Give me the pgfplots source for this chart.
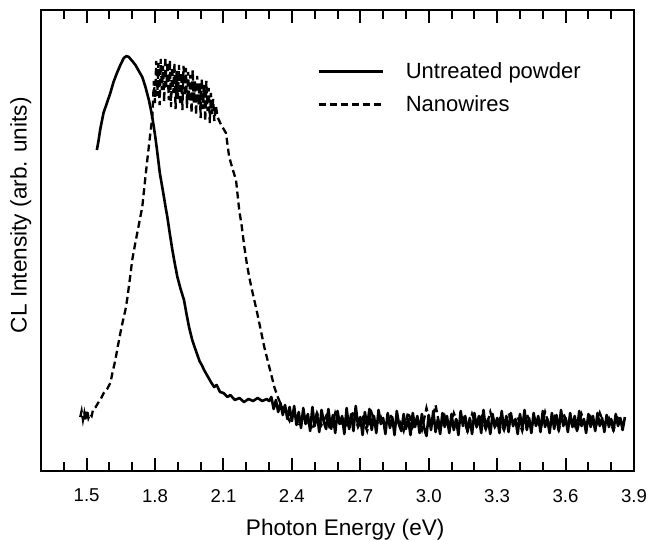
\documentclass[border=0pt]{standalone}
\usepackage{fontspec}
\setmainfont{Liberation Sans}
\usepackage{pgfplots}
\pgfplotsset{compat=1.18}

\begin{document}
\begin{tikzpicture}
\path[use as bounding box] (-20.5pt,-34.5pt) rectangle (305.5pt,235.5pt);
\begin{axis}[
    at={(0,0)}, anchor=south west,
    scale only axis,
    width=296.5pt, height=230.5pt,
    xmin=1.3, xmax=3.9,
    ymin=0, ymax=461,
    xtick={1.5,1.8,...,3.9},
    minor xtick={1.3,1.4,...,3.9},
    ytick=\empty,
    tick align=inside,
    major tick length=6.5pt,
    minor tick length=4.5pt,
    every tick/.style={line width=1pt, black},
    axis line style={line width=1.3pt},
    xticklabel style={font=\fontsize{9.3}{11}\selectfont, yshift=-5.5pt},
    /pgf/number format/assume math mode=true,
    /pgf/number format/.cd, fixed, fixed zerofill, precision=1, /pgfplots/.cd,
    xlabel={Photon Energy (eV)},
    ylabel={CL Intensity (arb. units)},
    label style={font=\fontsize{11.3}{13}\selectfont},
    xlabel style={at={(axis description cs:0.513,-0.127)}, anchor=center},
    ylabel style={at={(axis description cs:-0.034,0.555)}, anchor=center},
    legend style={draw=none, fill=none, at={(axis description cs:0.455,0.905)}, anchor=north west,
        font=\fontsize{11}{13}\selectfont, row sep=3pt,
        /tikz/every odd column/.append style={column sep=9pt}},
    legend cell align=left,
    legend image code/.code={\draw[#1] (0pt,0pt) -- (32pt,0pt);},
]
% Untreated powder
\addplot[black, line width=1.3pt, line join=round] coordinates {
(1.545,321) (1.552,330) (1.560,342) (1.567,350) (1.574,358) (1.589,368) (1.604,378)
(1.618,389) (1.633,398) (1.648,406) (1.663,413) (1.675,415) (1.685,414) (1.700,410)
(1.714,406) (1.729,400) (1.744,394) (1.758,384) (1.773,371) (1.783,360) (1.792,348)
(1.800,336) (1.807,324) (1.814,311) (1.821,298) (1.830,286) (1.839,274) (1.847,263)
(1.854,254) (1.865,237) (1.876,221) (1.887,207) (1.898,194) (1.912,182) (1.927,171)
(1.938,157) (1.949,144) (1.963,131) (1.978,121) (1.995,110) (2.005,106) (2.015,101)
(2.025,97) (2.035,93) (2.045,89) (2.059,84) (2.070,86) (2.085,79) (2.100,78)
(2.118,74) (2.130,76) (2.150,71) (2.170,73) (2.190,69) (2.210,72) (2.230,70)
(2.250,73) (2.270,70) (2.290,72)
(2.30,70) (2.31,74) (2.32,62) (2.33,71) (2.34,59) (2.35,68) (2.36,56) (2.37,66)
(2.38,52) (2.39,64) (2.40,50) (2.41,65) (2.42,46) (2.43,59) (2.44,43) (2.45,63)
(2.46,47) (2.47,57) (2.48,40) (2.49,64) (2.50,45) (2.51,58) (2.52,39) (2.53,61)
(2.54,49) (2.55,42) (2.56,62) (2.57,44) (2.58,56) (2.59,38) (2.60,60) (2.61,47)
(2.62,55) (2.63,37) (2.64,63) (2.65,43) (2.66,57) (2.67,40) (2.68,65) (2.69,45)
(2.70,54) (2.71,36) (2.72,59) (2.73,44) (2.74,62) (2.75,41) (2.76,55) (2.77,38)
(2.78,61) (2.79,47) (2.80,53) (2.81,37) (2.82,58) (2.83,43) (2.84,54) (2.85,36)
(2.86,60) (2.87,46) (2.88,40) (2.89,57) (2.90,42) (2.91,52) (2.92,36) (2.93,58)
(2.94,44) (2.95,55) (2.96,38) (2.97,57) (2.98,43) (2.99,35) (3.00,56) (3.01,41)
(3.02,60) (3.03,39) (3.04,52) (3.05,37) (3.06,58) (3.07,44) (3.08,55) (3.09,38)
(3.10,57) (3.11,41) (3.12,52) (3.13,36) (3.14,60) (3.15,45) (3.16,55) (3.17,39)
(3.18,53) (3.19,37) (3.20,58) (3.21,44) (3.22,55) (3.23,38) (3.24,61) (3.25,42)
(3.26,52) (3.27,37) (3.28,57) (3.29,44) (3.30,53) (3.31,38) (3.32,60) (3.33,41)
(3.34,55) (3.35,39) (3.36,58) (3.37,45) (3.38,52) (3.39,37) (3.40,57) (3.41,42)
(3.42,61) (3.43,41) (3.44,53) (3.45,38) (3.46,58) (3.47,45) (3.48,55) (3.49,39)
(3.50,60) (3.51,44) (3.52,52) (3.53,38) (3.54,58) (3.55,42) (3.56,56) (3.57,40)
(3.58,61) (3.59,45) (3.60,53) (3.61,39) (3.62,58) (3.63,44) (3.64,55) (3.65,40)
(3.66,60) (3.67,45) (3.68,52) (3.69,38) (3.70,57) (3.71,44) (3.72,55) (3.73,40)
(3.74,58) (3.75,45) (3.76,53) (3.77,39) (3.78,56) (3.79,44) (3.80,52) (3.81,40)
(3.82,57) (3.83,45) (3.84,53) (3.85,41) (3.86,54)
};
\addlegendentry{Untreated powder}
% Nanowires
\addplot[black, line width=1.15pt, dash pattern=on 3.5pt off 2pt] coordinates {
(1.472,54) (1.478,60) (1.484,51) (1.490,58) (1.496,50) (1.502,61) (1.508,53)
(1.515,57) (1.522,55) (1.529,62) (1.540,64) (1.550,68) (1.560,71) (1.575,78)
(1.590,82) (1.604,88) (1.615,100) (1.626,111) (1.637,125) (1.648,138) (1.659,150)
(1.670,161) (1.678,172) (1.685,184) (1.693,198) (1.700,211) (1.711,225) (1.722,238)
(1.733,251) (1.744,264) (1.755,288) (1.766,311) (1.777,333) (1.788,354) (1.795,390)
(1.800,368) (1.805,410) (1.810,375) (1.815,408) (1.820,366) (1.825,412) (1.830,381)
(1.835,405) (1.840,369) (1.845,414) (1.850,384) (1.855,409) (1.860,371) (1.865,411)
(1.870,364) (1.875,404) (1.880,378) (1.885,408) (1.890,362) (1.895,400) (1.900,372)
(1.905,406) (1.910,366) (1.915,398) (1.920,361) (1.925,405) (1.930,375) (1.935,403)
(1.940,363) (1.945,399) (1.950,370) (1.955,396) (1.960,358) (1.965,401) (1.970,368)
(1.975,390) (1.980,356) (1.985,395) (1.990,366) (1.995,388) (2.000,353) (2.005,392)
(2.010,362) (2.015,386) (2.020,350) (2.025,390) (2.030,360) (2.035,383) (2.040,348)
(2.045,378) (2.050,357) (2.055,372) (2.060,350) (2.067,365)
(2.074,354) (2.090,346) (2.111,338) (2.125,314) (2.140,302) (2.155,291) (2.169,261)
(2.180,245) (2.191,225) (2.202,208) (2.213,194) (2.224,182) (2.235,171) (2.246,160)
(2.257,148) (2.268,136) (2.279,124) (2.290,114) (2.301,104) (2.312,94) (2.323,84)
(2.338,74) (2.353,66) (2.365,62)
(2.37,60) (2.39,50) (2.41,60) (2.43,45) (2.45,57) (2.47,49) (2.49,41) (2.51,58)
(2.53,46) (2.55,55) (2.57,40) (2.59,58) (2.61,45) (2.63,54) (2.65,41) (2.67,60)
(2.69,44) (2.71,53) (2.73,40) (2.75,58) (2.77,46) (2.79,54) (2.81,41) (2.83,57)
(2.85,45) (2.87,52) (2.89,40) (2.91,59) (2.93,44) (2.95,53) (2.97,41) (2.99,63)
(3.01,45) (3.03,66) (3.05,42) (3.07,55) (3.09,41) (3.11,58) (3.13,46) (3.15,53)
(3.17,40) (3.19,57) (3.21,45) (3.23,54) (3.25,42) (3.27,59) (3.29,44) (3.31,52)
(3.33,41) (3.35,58) (3.37,46) (3.39,54) (3.41,40) (3.43,57) (3.45,45) (3.47,53)
(3.49,42) (3.51,59) (3.53,44) (3.55,54) (3.57,41) (3.59,58) (3.61,46) (3.63,52)
(3.65,40) (3.67,57) (3.69,45) (3.71,54) (3.73,42) (3.75,58) (3.77,46) (3.79,53)
(3.81,41) (3.83,56) (3.85,46)
};
\addlegendentry{Nanowires}
\end{axis}
\end{tikzpicture}
\end{document}
